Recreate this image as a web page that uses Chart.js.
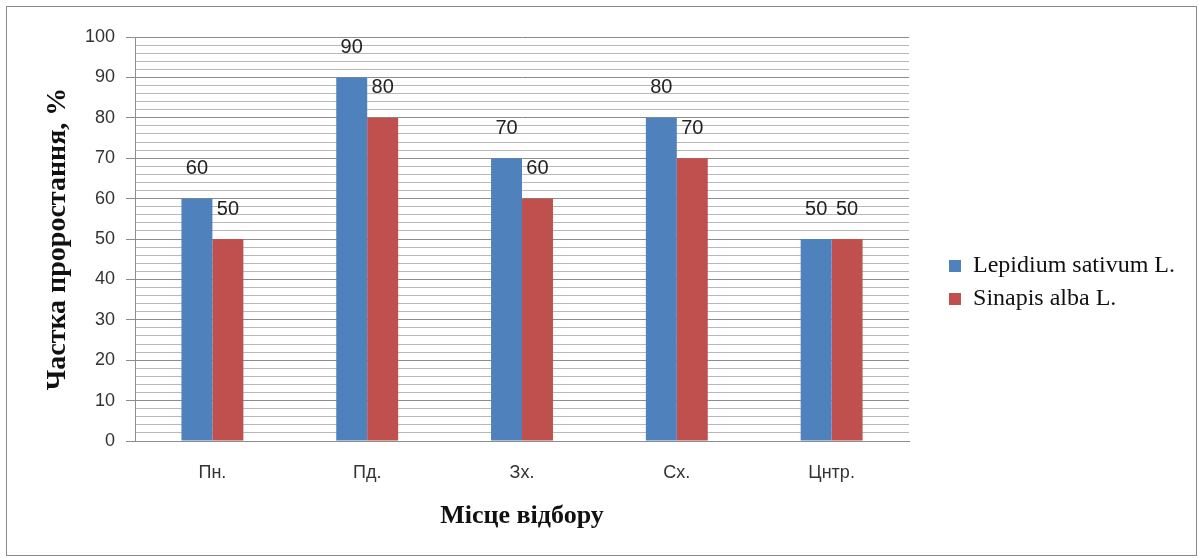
<!DOCTYPE html>
<html>
<head>
<meta charset="utf-8">
<script src="https://cdn.jsdelivr.net/npm/chart.js@4.4.0/dist/chart.umd.min.js"></script>
<style>
  html, body { margin: 0; padding: 0; background: #fff; }
  #wrap { width: 1199px; height: 558px; position: relative; }
</style>
</head>
<body>
<div id="wrap"><canvas id="sproutChart"></canvas></div>
<script>
// sampling places and germination share per species
var places = ['Пн.', 'Пд.', 'Зх.', 'Сх.', 'Цнтр.'];
var lepidium = [60, 90, 70, 80, 50];
var sinapis = [50, 80, 60, 70, 50];
var seriesNames = ['Lepidium sativum L.', 'Sinapis alba L.'];

// value labels above each bar
const barValues = {
  id: 'barValues',
  afterDatasetsDraw(chart) {
    const c = chart.ctx;
    c.save();
    c.font = '20px "Liberation Sans", Arial, sans-serif';
    c.fillStyle = '#222';
    c.textAlign = 'center';
    c.textBaseline = 'middle';
    chart.data.datasets.forEach((ds, i) => {
      chart.getDatasetMeta(i).data.forEach((bar, j) => {
        c.fillText(ds.data[j], bar.x, bar.y - 30);
      });
    });
    c.restore();
  }
};

// thin frame round the whole figure
const frame = {
  id: 'frame',
  beforeDraw(chart) {
    const c = chart.ctx;
    c.save();
    c.fillStyle = '#fff';
    c.fillRect(0, 0, chart.width, chart.height);
    c.strokeStyle = '#8a8a8a';
    c.lineWidth = 1;
    c.strokeRect(6.5, 6.5, chart.width - 9, chart.height - 9);
    c.restore();
  }
};

// push the legend a bit further away from the plot
const legendGap = {
  id: 'legendGap',
  afterLayout(chart) {
    const lg = chart.legend;
    if (lg) {
      lg.left += 31;
      lg.right += 31;
      lg.top -= 5;
      lg.bottom -= 5;
    }
  }
};

const serif = '"Liberation Serif", "Times New Roman", serif';
const sans = '"Liberation Sans", Arial, sans-serif';

new Chart(document.getElementById('sproutChart'), {
  type: 'bar',
  data: {
    labels: places,
    datasets: [{
      label: seriesNames[0],
      data: lepidium,
      backgroundColor: '#4f81bd'
    }, {
      label: seriesNames[1],
      data: sinapis,
      backgroundColor: '#c0504d'
    }]
  },
  options: {
    responsive: true,
    maintainAspectRatio: false,
    animation: false,
    datasets: {
      bar: { barPercentage: 1, categoryPercentage: 0.4 }
    },
    layout: {
      padding: { left: 20, top: 37, right: 45, bottom: 20 }
    },
    plugins: {
      tooltip: { enabled: false },
      legend: {
        position: 'right',
        labels: {
          boxWidth: 12,
          boxHeight: 12,
          padding: 9,
          color: '#111',
          font: { family: serif, size: 24 }
        }
      }
    },
    scales: {
      x: {
        grid: { display: false, drawTicks: false },
        border: { display: true, color: '#8c8c8c' },
        ticks: {
          padding: 21,
          color: '#333',
          font: { family: sans, size: 18 }
        },
        title: {
          display: true,
          text: 'Місце відбору',
          color: '#111',
          padding: { top: 0, bottom: 6 },
          font: { family: serif, size: 26, weight: 'bold' }
        },
        afterFit(scale) { scale.height = 97; }
      },
      y: {
        min: 0,
        max: 100,
        ticks: {
          stepSize: 2,
          autoSkip: false,
          padding: 11,
          color: '#333',
          font: { family: sans, size: 18 },
          callback: (v) => (v % 10 === 0 ? v : '')
        },
        grid: {
          tickLength: 9,
          color: (ctx) => (ctx.tick && ctx.tick.value % 10 === 0 ? '#8c8c8c' : '#b8b8b8'),
          tickColor: (ctx) => (ctx.tick && ctx.tick.value % 10 === 0 ? '#8c8c8c' : 'rgba(0,0,0,0)')
        },
        border: { display: true, color: '#8c8c8c' },
        title: {
          display: true,
          text: 'Частка проростання, %',
          color: '#111',
          padding: { top: 21, bottom: 0 },
          font: { family: serif, size: 28, weight: 'bold' }
        },
        afterFit(scale) { scale.width = 115; }
      }
    }
  },
  plugins: [frame, barValues, legendGap]
});
</script>
</body>
</html>
